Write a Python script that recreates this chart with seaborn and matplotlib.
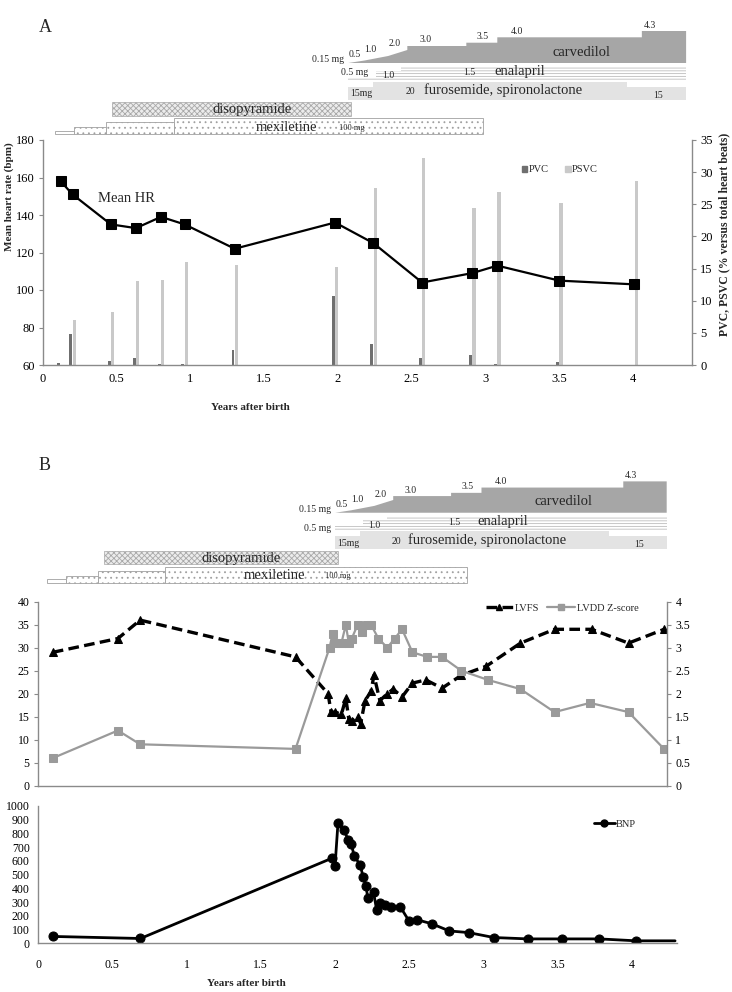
import numpy as np
import matplotlib
matplotlib.use("Agg")
import matplotlib.pyplot as plt
import seaborn as sns
from matplotlib.lines import Line2D
from matplotlib.patches import Patch, Rectangle
from matplotlib.ticker import MultipleLocator, FuncFormatter

# ---------------- data ----------------
# Panel A: Holter data
hr_years = [0.12, 0.20, 0.46, 0.63, 0.80, 0.96, 1.30, 1.98, 2.24, 2.57, 2.91, 3.08, 3.50, 4.01]
mean_hr = [158, 151, 135, 133, 139, 135, 122, 136, 125, 104, 109, 113, 105, 103]
pvc_pct = [0.3, 4.8, 0.6, 1.1, 0.1, 0.1, 2.3, 10.7, 3.2, 1.1, 1.5, 0.2, 0.5, 0.05]
psvc_pct = [0.0, 7.0, 8.2, 13.0, 13.2, 16.0, 15.5, 15.2, 27.5, 32.2, 24.4, 26.9, 25.2, 28.7]

# Panel B: echo data
lvfs_years = [0.10, 0.54, 0.69, 1.74, 1.96, 1.98, 2.01, 2.05, 2.08, 2.10, 2.12, 2.16, 2.18, 2.21,
              2.25, 2.27, 2.31, 2.36, 2.40, 2.46, 2.53, 2.62, 2.73, 2.86, 3.03, 3.26, 3.49, 3.74,
              3.99, 4.23]
lvfs = [29, 32, 36, 28, 20, 16, 16, 15.5, 19, 14.5, 14, 15, 13.5, 18.5,
        20.5, 24, 18.5, 20, 21, 19.3, 22.3, 23, 21.2, 24, 26, 31, 34, 34, 31, 34]
lvdd_years = [0.10, 0.54, 0.69, 1.74, 1.97, 1.99, 2.01, 2.05, 2.08, 2.10, 2.12, 2.16, 2.19, 2.22,
              2.25, 2.30, 2.36, 2.41, 2.46, 2.53, 2.63, 2.73, 2.86, 3.04, 3.26, 3.49, 3.73, 3.99, 4.23]
lvdd_z = [0.6, 1.2, 0.9, 0.8, 3.0, 3.3, 3.1, 3.1, 3.5, 3.1, 3.2, 3.5, 3.35, 3.5,
          3.5, 3.2, 3.0, 3.2, 3.4, 2.9, 2.8, 2.8, 2.5, 2.3, 2.1, 1.6, 1.8, 1.6, 0.8]

# Panel B: BNP
bnp_years = [0.10, 0.69, 1.98, 2.00, 2.02, 2.06, 2.09, 2.11, 2.13, 2.17, 2.19, 2.21, 2.22, 2.26,
             2.28, 2.30, 2.34, 2.38, 2.44, 2.50, 2.55, 2.65, 2.77, 2.90, 3.07, 3.30, 3.53, 3.78,
             4.03, 4.29]
bnp = [50, 35, 620, 560, 875, 825, 750, 720, 635, 570, 480, 415, 330, 370,
       245, 290, 280, 265, 265, 160, 172, 143, 90, 78, 42, 32, 32, 32, 18, 18]

# Drug timelines (years after birth)
carv_start = [2.07, 2.18, 2.34, 2.47, 2.87, 3.08, 4.06]
carv_end = 4.36
carv_dose = ["0.5", "1.0", "2.0", "3.0", "3.5", "4.0", "4.3"]
enal_start = [2.07, 2.26, 2.43]
enal_end = 4.36
enal_dose = ["0.5 mg", "1.0", "1.5"]
furo_start = [2.07, 2.24, 3.96]
furo_end = 4.36
furo_dose = ["15mg", "20", "15"]
diso_start, diso_end = 0.47, 2.09
mex_start = [0.08, 0.21, 0.43, 0.89]
mex_end = 2.98

# ---------------- layout / style ----------------
W, H = 732, 992
CARV_H = [2.5, 7, 13, 17, 20.3, 25.7, 32]
CARV_LBL_DX = [0.0, 0.0, 0.0, 0.08, 0.07, 0.09, 0.01]
ENAL_H = [4, 10.3, 14.3]
FURO_H = [13, 18, 13]
MEX_H = [3.3, 7, 12, 16]
SPINE = "#8a8a8a"

sns.set_style("white")
plt.rcParams["font.family"] = ["Liberation Serif", "DejaVu Serif"]
plt.rcParams["hatch.linewidth"] = 0.6

fig = plt.figure(figsize=(W / 100, H / 100), dpi=100)


def rect(l, t, r, b):
    return [l / W, 1 - b / H, (r - l) / W, (b - t) / H]


def ftext(x, y, s, **kw):
    kw.setdefault("ha", "center")
    kw.setdefault("va", "center")
    fig.text(x / W, 1 - y / H, s, **kw)


def style_axis(ax, fs):
    ax.tick_params(axis="both", which="both", direction="out", length=3, width=0.8,
                   color=SPINE, labelsize=fs, labelcolor="black", pad=3)
    for sp in ax.spines.values():
        sp.set_color(SPINE)
        sp.set_linewidth(1.0)


def draw_drugs(ax, enal_label_left):
    ax.set_xlim(0, 4.4)
    ax.set_ylim(137, 0)
    ax.axis("off")
    # carvedilol
    base = 63
    ends = carv_start[1:] + [carv_end]
    px, py = [carv_start[0]], [base]
    prev = 0
    for i, (s, e, h) in enumerate(zip(carv_start, ends, CARV_H)):
        if i < 3:
            px += [s, e]
            py += [base - prev, base - h]
        else:
            px += [s, e]
            py += [base - h, base - h]
        prev = h
    px.append(carv_end)
    py.append(base)
    ax.fill(px, py, color="#a6a6a6", lw=0)
    for s, h, d, dx in zip(carv_start, CARV_H, carv_dose, CARV_LBL_DX):
        ax.text(s + dx, base - h - 1.5, d, fontsize=7, ha="left", va="bottom")
    ax.text(carv_start[0] - 0.03, 60, "0.15 mg", fontsize=7, ha="right", va="center")
    ax.text(3.65, 52, "carvedilol", fontsize=10.5, ha="center", va="center")

    # enalapril
    ebot = 81
    ends = enal_start[1:] + [enal_end]
    for s, e, h in zip(enal_start, ends, ENAL_H):
        ax.add_patch(Rectangle((s, ebot - h), e - s, h, facecolor="white",
                               edgecolor="#bdbdbd", hatch="------", lw=0))
    if enal_label_left:
        ax.text(enal_start[0] - 0.03, 79.5, enal_dose[0], fontsize=7, ha="right", va="center")
    else:
        ax.text(enal_start[0] + 0.04, 72.5, enal_dose[0], fontsize=7, ha="center", va="center")
    ax.text(2.34, 76, enal_dose[1], fontsize=7, ha="center", va="center")
    ax.text(2.89, 72.5, enal_dose[2], fontsize=7, ha="center", va="center")
    ax.text(3.23, 71.5, "enalapril", fontsize=10.5, ha="center", va="center")

    # furosemide, spironolactone
    fbot = 100
    ends = furo_start[1:] + [furo_end]
    for s, e, h in zip(furo_start, ends, FURO_H):
        ax.add_patch(Rectangle((s, fbot - h), e - s, h, facecolor="#e3e3e3", lw=0))
    ax.text(2.16, 94, furo_dose[0], fontsize=7, ha="center", va="center")
    ax.text(2.49, 92, furo_dose[1], fontsize=7, ha="center", va="center")
    ax.text(4.17, 95, furo_dose[2], fontsize=7, ha="center", va="center")
    ax.text(3.12, 90.5, "furosemide, spironolactone", fontsize=10.5, ha="center", va="center")

    # disopyramide
    ax.add_patch(Rectangle((diso_start, 101.7), diso_end - diso_start, 14,
                           facecolor="#ececec", edgecolor="#a8a8a8", hatch="xxxxxx", lw=0.5))
    ax.text(1.42, 109.5, "disopyramide", fontsize=10.5, ha="center", va="center")

    # mexiletine
    mbot = 134.3
    ends = mex_start[1:] + [mex_end]
    for i, (s, e, h) in enumerate(zip(mex_start, ends, MEX_H)):
        ax.add_patch(Rectangle((s, mbot - h), e - s, h, facecolor="white",
                               edgecolor="#a0a0a0", hatch=None if i == 0 else "...", lw=0.6))
    ax.text(1.65, 127.5, "mexiletine", fontsize=10.5, ha="center", va="center",
            bbox=dict(facecolor="white", edgecolor="none", pad=0.2, alpha=0.0))
    ax.text(2.09, 128, "100 mg", fontsize=6, ha="center", va="center")


fmt = FuncFormatter(lambda v, p: "%g" % v)

# ================= Panel A =================
ftext(45, 28, "A", fontsize=13)
axDA = fig.add_axes(rect(43, 0, 692, 137))
draw_drugs(axDA, enal_label_left=False)

axA = fig.add_axes(rect(43, 140, 692, 365))
axA2 = axA.twinx()
x = np.array(hr_years)
axA2.bar(x - 0.012, pvc_pct, width=0.02, color="#6f6f6f", lw=0)
axA2.bar(x + 0.012, psvc_pct, width=0.022, color="#c9c9c9", lw=0)
axA.set_zorder(axA2.get_zorder() + 1)
axA.patch.set_visible(False)
sns.lineplot(x=hr_years, y=mean_hr, ax=axA, color="black", marker="s", markersize=7,
             markeredgecolor="black", linewidth=1.6, sort=False, estimator=None, legend=False)
axA.set_xlim(0, 4.4)
axA.set_ylim(60, 180)
axA.yaxis.set_major_locator(MultipleLocator(20))
axA.xaxis.set_major_locator(MultipleLocator(0.5))
axA.xaxis.set_major_formatter(fmt)
axA.set_xlabel("")
axA.set_ylabel("")
axA2.set_ylim(0, 35)
axA2.yaxis.set_major_locator(MultipleLocator(5))
axA2.set_ylabel("")
for a in (axA, axA2):
    style_axis(a, 9)
axA.spines["top"].set_visible(False)
axA.spines["right"].set_visible(False)
axA2.spines["top"].set_visible(False)
axA2.spines["left"].set_visible(False)
axA2.spines["bottom"].set_visible(False)
axA.text(0.37, 149, "Mean HR", fontsize=10.5, ha="left", va="center")
axA2.legend(handles=[Patch(color="#6f6f6f"), Patch(color="#c9c9c9")], labels=["PVC", "PSVC"],
            ncol=2, frameon=False, fontsize=7.5, handlelength=0.5, handleheight=0.6,
            handletextpad=0.15, columnspacing=1.6, loc="center",
            bbox_to_anchor=(560 / W, 1 - 170 / H), bbox_transform=fig.transFigure)
ftext(9, 197, "Mean heart rate (bpm)", rotation=90, fontsize=8, fontweight="bold")
ftext(724, 234, "PVC, PSVC (% versus total heart beats)", rotation=90, fontsize=8.5,
      fontweight="bold")
ftext(250, 407, "Years after birth", fontsize=8, fontweight="bold")

# ================= Panel B =================
ftext(45, 465, "B", fontsize=13)
axDB = fig.add_axes(rect(35.8, 451, 35.8 + 4.4 * 144.7, 451 + 137 * 0.98))
draw_drugs(axDB, enal_label_left=True)

# middle: LVFS / LVDD
axM = fig.add_axes(rect(38, 601.7, 667, 785.7))
axM2 = axM.twinx()
sns.lineplot(x=lvfs_years, y=lvfs, ax=axM, color="black", marker="^", markersize=6,
             markeredgecolor="black", linewidth=2.4, linestyle=(0, (3.2, 1.6)),
             sort=False, estimator=None, legend=False)
sns.lineplot(x=lvdd_years, y=lvdd_z, ax=axM2, color="#9a9a9a", marker="s", markersize=6,
             markeredgecolor="#9a9a9a", linewidth=1.6, sort=False, estimator=None, legend=False)
axM.set_xlim(0, 629 / 148.5)
axM.set_ylim(0, 40)
axM.yaxis.set_major_locator(MultipleLocator(5))
axM.set_xticks(np.arange(0, 4.3, 0.25))
axM.set_xticklabels([])
axM2.set_ylim(0, 4)
axM2.yaxis.set_major_locator(MultipleLocator(0.5))
axM2.yaxis.set_major_formatter(fmt)
for a in (axM, axM2):
    a.set_xlabel("")
    a.set_ylabel("")
    style_axis(a, 8.5)
axM.spines["top"].set_visible(False)
axM.spines["right"].set_visible(False)
axM2.spines["top"].set_visible(False)
axM2.spines["left"].set_visible(False)
axM2.spines["bottom"].set_visible(False)
axM2.legend(handles=[Line2D([], [], color="black", lw=2.4, ls=(0, (3.2, 1.6)), marker="^", ms=5),
                     Line2D([], [], color="#9a9a9a", lw=1.6, marker="s", ms=5)],
            labels=["LVFS", "LVDD Z-score"], ncol=2, frameon=False, fontsize=7.5,
            handlelength=2.6, handletextpad=0.2, columnspacing=0.8, loc="center",
            bbox_to_anchor=(562 / W, 1 - 608 / H), bbox_transform=fig.transFigure)

# bottom: BNP
axN = fig.add_axes(rect(38, 806, 38 + 4.3 * 148.5, 943.3))
sns.lineplot(x=bnp_years, y=bnp, ax=axN, color="black", marker="o", markersize=6.5,
             markeredgecolor="black", linewidth=2.0, sort=False, estimator=None, legend=False,
             markevery=list(range(len(bnp_years) - 1)))
axN.set_xlim(0, 4.3)
axN.set_ylim(0, 1000)
axN.yaxis.set_major_locator(MultipleLocator(100))
axN.xaxis.set_major_locator(MultipleLocator(0.5))
axN.xaxis.set_minor_locator(MultipleLocator(0.25))
axN.xaxis.set_major_formatter(fmt)
axN.set_xlabel("")
axN.set_ylabel("")
style_axis(axN, 8.5)
axN.tick_params(axis="x", which="major", pad=8)
axN.spines["top"].set_visible(False)
axN.spines["right"].set_visible(False)
axN.legend(handles=[Line2D([], [], color="black", lw=2, marker="o", ms=5)], labels=["BNP"],
           frameon=False, fontsize=7.5, handlelength=2.0, handletextpad=0.1, loc="center",
           bbox_to_anchor=(615 / W, 1 - 824 / H), bbox_transform=fig.transFigure)
ftext(246, 983, "Years after birth", fontsize=8, fontweight="bold")

fig.savefig("out.png", dpi=100, facecolor="white")
